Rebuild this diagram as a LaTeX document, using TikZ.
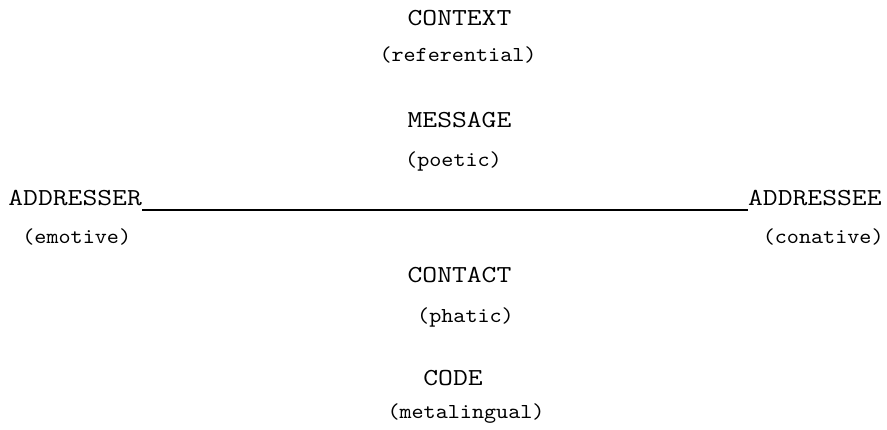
\documentclass[tikz,border=0pt]{standalone}
\usepackage{fontspec}
\newfontfamily\typewriter[FakeStretch=1.18]{Latin Modern Mono}
\newfontfamily\typewritersmall[FakeStretch=1.08]{Latin Modern Mono}
\begin{document}
\begin{tikzpicture}[x=0.5pt, y=0.5pt,
		factor/.style={font=\typewriter\fontsize{12.2}{15}\selectfont, inner sep=0pt, anchor=base},
		function/.style={font=\typewritersmall\fontsize{10.65}{12}\selectfont, inner sep=0pt, anchor=base}]
	\useasboundingbox (0,0) rectangle (887,429);
	
	% ------------------ 上方: context / message ------------------
	\node[factor] (context) at (459.5, 403) {CONTEXT};
	\node[function] (referential) at (458, 367) {(referential)};
	\node[factor] (message) at (459.5, 301) {MESSAGE};
	\node[function] (poetic) at (453.5, 263) {(poetic)};
	
	% ------------------ 中间: addresser -- addressee ------------------
	\node[factor, anchor=base west] (addresser) at (8, 224) {ADDRESSER};
	\node[function, anchor=base west] (emotive) at (22, 186) {(emotive)};
	\node[factor, anchor=base east] (addressee) at (882, 224) {ADDRESSEE};
	\node[function, anchor=base east] (conative) at (884, 186) {(conative)};
	\draw[line width=0.55pt] ([yshift=-2.5pt]addresser.base east) -- ([yshift=-2.5pt]addressee.base west);
	
	% ------------------ 下方: contact / code ------------------
	\node[factor] (contact) at (459.5, 147) {CONTACT};
	\node[function] (phatic) at (465.5, 107) {(phatic)};
	\node[factor] (code) at (453, 44) {CODE};
	\node[function] (metalingual) at (466, 11) {(metalingual)};
\end{tikzpicture}
\end{document}
